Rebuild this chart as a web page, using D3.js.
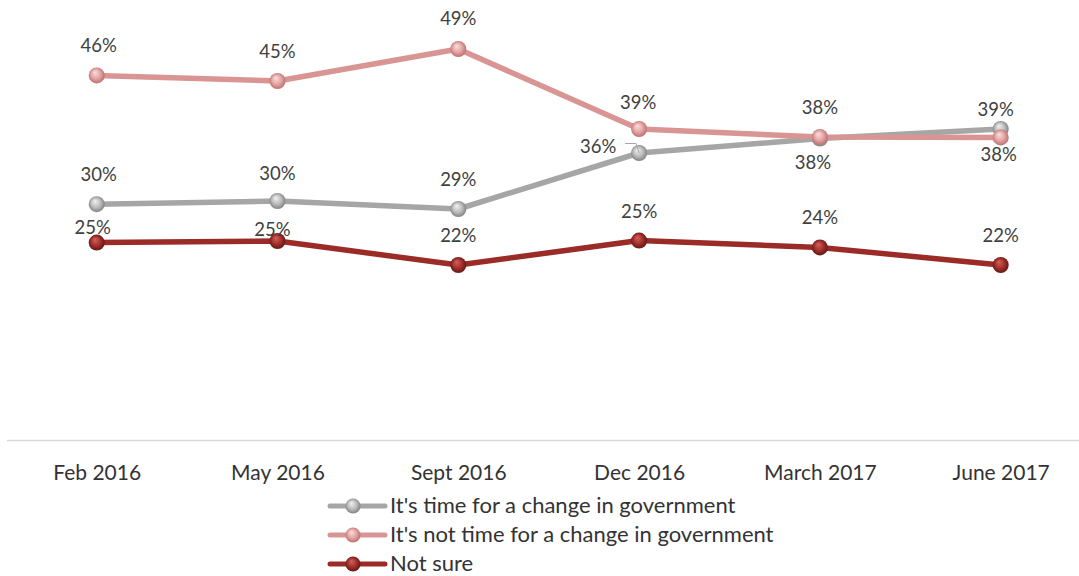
<!DOCTYPE html>
<html>
<head>
<meta charset="utf-8">
<script src="https://cdn.jsdelivr.net/npm/d3@7"></script>
<style>
  body { margin: 0; background: #fff; }
  svg { display: block; font-family: Lato, "Open Sans", sans-serif; }
</style>
</head>
<body>
<script>
// data (percent)
let periods = ["Feb 2016", "May 2016", "Sept 2016", "Dec 2016", "March 2017", "June 2017"];
let timeForChange = [29.6, 30.0, 29.0, 36.0, 37.8, 39.0];
let notTimeForChange = [45.7, 45.0, 49.0, 39.0, 38.0, 37.95];
let notSure = [24.8, 25.0, 22.0, 25.05, 24.2, 22.0];
let seriesNames = ["It's time for a change in government", "It's not time for a change in government", "Not sure"];

// label placement (dx, dy of the text baseline from the marker), like the hand-moved labels in the original
let labelPos = [
    [[2, -23.5], [0, -21.5], [0, -23.5], [-41, -0.5], [-7, 30], [-5, -13]],
    [[2, -23.5], [0, -23.5], [0, -24], [-1, -20.5], [0, -23.5], [-2, 24]],
    [[-4, -9], [-5, -5], [0, -23.5], [0, -22.5], [0, -23.5], [0, -23.5]]
];

let width = 1079, height = 576;

let svg = d3.select("body").append("svg")
    .attr("width", width)
    .attr("height", height);

// set the ranges
let x = d3.scalePoint().domain(periods).range([96.7, 1000.7]);
let y = d3.scaleLinear().domain([0, 50]).range([441, 41]);

let colors = ["#a6a6a6", "#d99594", "#9b2b27"];
let grads = [
    ["#f2f2f2", "#bcbcbc", "#787878"],
    ["#fbe0df", "#e3a4a3", "#b56866"],
    ["#d9605b", "#a0302c", "#5a1311"]
];

let defs = svg.append("defs");
grads.forEach(function(g, i) {
    let rg = defs.append("radialGradient")
        .attr("id", "ball" + i)
        .attr("cx", "50%").attr("cy", "50%").attr("r", "55%")
        .attr("fx", "38%").attr("fy", "30%");
    rg.append("stop").attr("offset", "0%").attr("stop-color", g[0]);
    rg.append("stop").attr("offset", "55%").attr("stop-color", g[1]);
    rg.append("stop").attr("offset", "100%").attr("stop-color", g[2]);
});

// x axis
let xAxis = svg.append("g")
    .attr("transform", "translate(0,441)")
    .call(d3.axisBottom(x).tickSize(0).tickPadding(0));
xAxis.select(".domain").remove();
xAxis.selectAll("text")
    .attr("y", 39)
    .attr("dy", null)
    .attr("fill", "#333")
    .style("font-size", "21px")
    .style("font-family", "Lato, sans-serif");

svg.append("line")
    .attr("x1", 7).attr("x2", 1079)
    .attr("y1", 440.5).attr("y2", 440.5)
    .attr("stroke", "#d9d9d9")
    .attr("stroke-width", 1.5);

let allSeries = [timeForChange, notTimeForChange, notSure];

let valueline = d3.line()
    .x(function(d, i) { return x(periods[i]); })
    .y(function(d) { return y(d); });

allSeries.forEach(function(values, s) {
    let g = svg.append("g");
    g.append("path")
        .datum(values)
        .attr("fill", "none")
        .attr("stroke", colors[s])
        .attr("stroke-width", 5.5)
        .attr("stroke-linejoin", "round")
        .attr("d", valueline);

    g.selectAll("circle")
        .data(values)
        .enter().append("circle")
        .attr("cx", function(d, i) { return x(periods[i]); })
        .attr("cy", function(d) { return y(d); })
        .attr("r", 8)
        .attr("fill", "url(#ball" + s + ")");
});

// leader line for the Dec 2016 label of the first series
svg.append("polyline")
    .attr("points", [
        [x(periods[3]) - 14, y(timeForChange[3]) - 9.5],
        [x(periods[3]) - 3, y(timeForChange[3]) - 9.5],
        [x(periods[3]), y(timeForChange[3])]
    ].map(function(p) { return p.join(","); }).join(" "))
    .attr("fill", "none")
    .attr("stroke", "#a6a6a6")
    .attr("stroke-width", 1);

// data labels
allSeries.forEach(function(values, s) {
    svg.append("g").selectAll("text")
        .data(values)
        .enter().append("text")
        .attr("x", function(d, i) { return x(periods[i]) + labelPos[s][i][0]; })
        .attr("y", function(d, i) { return y(d) + labelPos[s][i][1]; })
        .attr("text-anchor", "middle")
        .attr("fill", "#404040")
        .style("font-size", "18.5px")
        .text(function(d) { return Math.round(d) + "%"; });
});

// legend
let legend = svg.append("g").attr("transform", "translate(330,506)");
seriesNames.forEach(function(name, i) {
    let row = legend.append("g").attr("transform", "translate(0," + (i * 29) + ")");
    row.append("line")
        .attr("x1", 0).attr("x2", 55)
        .attr("stroke", colors[i])
        .attr("stroke-width", 5)
        .attr("stroke-linecap", "round");
    row.append("circle")
        .attr("cx", 23).attr("cy", 0).attr("r", 7.5)
        .attr("fill", "url(#ball" + i + ")");
    row.append("text")
        .attr("x", 60).attr("y", 7)
        .attr("fill", "#333")
        .style("font-size", "22px")
        .text(name);
});
</script>
</body>
</html>
